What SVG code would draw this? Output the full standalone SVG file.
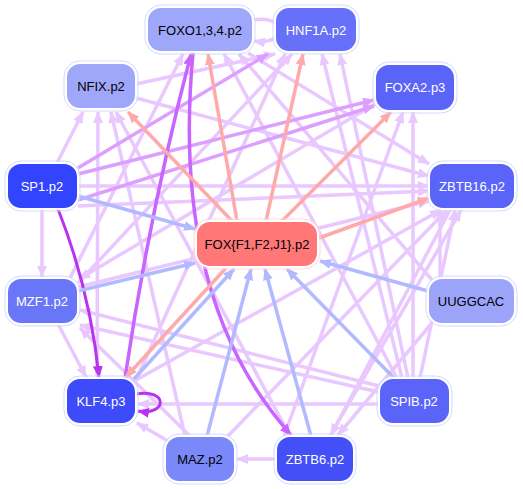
<svg xmlns="http://www.w3.org/2000/svg" width="523" height="489" viewBox="0 0 523 489">
<defs>
<style>
.e{fill:none;stroke-linecap:butt}
.l{stroke:#e9c8ff;stroke-width:3.5}
.m{stroke:#dc9fff;stroke-width:3.5}
.d{stroke:#c964ff;stroke-width:3.5}
.dd{stroke:#b833ee;stroke-width:3}
.r{stroke:#ffaaaa;stroke-width:3.5}
.b{stroke:#b2baff;stroke-width:3.5}
.nb{stroke:#ffffff;stroke-width:2}
.no{fill:none;stroke:#d4d8ff;stroke-width:1}
text{font-family:"Liberation Sans",Arial,sans-serif;font-size:13px;text-anchor:middle;dominant-baseline:central}
.w{fill:#ffffff}
.k{fill:#000000}
</style>
<marker id="al" markerUnits="userSpaceOnUse" markerWidth="12" markerHeight="10" refX="11" refY="5" orient="auto"><path d="M0,0 L12,5 L0,10 z" fill="#e9c8ff"/></marker>
<marker id="am" markerUnits="userSpaceOnUse" markerWidth="12" markerHeight="10" refX="11" refY="5" orient="auto"><path d="M0,0 L12,5 L0,10 z" fill="#dc9fff"/></marker>
<marker id="ad" markerUnits="userSpaceOnUse" markerWidth="12" markerHeight="10" refX="11" refY="5" orient="auto"><path d="M0,0 L12,5 L0,10 z" fill="#c964ff"/></marker>
<marker id="add" markerUnits="userSpaceOnUse" markerWidth="12" markerHeight="10" refX="11" refY="5" orient="auto"><path d="M0,0 L12,5 L0,10 z" fill="#b833ee"/></marker>
<marker id="ar" markerUnits="userSpaceOnUse" markerWidth="12" markerHeight="10" refX="11" refY="5" orient="auto"><path d="M0,0 L12,5 L0,10 z" fill="#ffaaaa"/></marker>
<marker id="ab" markerUnits="userSpaceOnUse" markerWidth="12" markerHeight="10" refX="11" refY="5" orient="auto"><path d="M0,0 L12,5 L0,10 z" fill="#b2baff"/></marker>
</defs>
<rect width="523" height="489" fill="#ffffff"/>
<g id="connectors">
<!-- light purple -->
<path class="e l" marker-end="url(#al)" d="M57,163 L83,112"/>
<path class="e l" marker-end="url(#al)" d="M42,209 L42,277"/>
<path class="e l" marker-end="url(#al)" d="M58,324 L86,377"/>
<path class="e l" marker-end="url(#al)" d="M97,378 L98,112"/>
<path class="e l" marker-end="url(#al)" d="M185,436 L111,112"/>
<path class="e l" marker-end="url(#al)" d="M290,436 L116,112"/>
<path class="e l" marker-end="url(#al)" d="M136,84 L275,54"/>
<path class="e l" marker-end="url(#al)" d="M136,98 L429,176"/>
<path class="e l" marker-end="url(#al)" d="M248,53 L429,164"/>
<path class="e l" marker-end="url(#al)" d="M397,378 L224,54"/>
<path class="e l" marker-end="url(#al)" d="M402,378 L322,54"/>
<path class="e l" marker-end="url(#al)" d="M408,378 L340,54"/>
<path class="e l" marker-end="url(#al)" d="M413,378 L413,112"/>
<path class="e l" marker-end="url(#al)" d="M420,378 L455,210"/>
<path class="e l" marker-end="url(#al)" d="M284,436 L403,112"/>
<path class="e l" marker-end="url(#al)" d="M228,436 L447,210"/>
<path class="e l" marker-end="url(#al)" d="M136,380 L441,210"/>
<path class="e l" marker-end="url(#al)" d="M136,380 L285,54"/>
<path class="e l" marker-end="url(#al)" d="M450,210 L331,435"/>
<path class="e l" marker-end="url(#al)" d="M432,323 L338,435"/>
<path class="e l" marker-end="url(#al)" d="M276,459 L237,459"/>
<path class="e l" marker-end="url(#al)" d="M168,441 L137,423"/>
<path class="e l" marker-end="url(#al)" d="M379,404 L138,404"/>
<path class="e l" marker-end="url(#al)" d="M379,386 L80,310"/>
<path class="e l" marker-end="url(#al)" d="M379,392 L80,325"/>
<path class="e l" marker-end="url(#al)" d="M190,436 L80,328"/>
<path class="e l" marker-end="url(#al)" d="M70,278 L183,54"/>
<path class="e l" marker-end="url(#al)" d="M78,283 L292,54"/>
<path class="e l" marker-end="url(#al)" d="M78,287 L429,201"/>
<path class="e l" marker-end="url(#al)" d="M78,186 L429,186"/>
<path class="e l" marker-end="url(#al)" d="M78,206 L429,191"/>
<path class="e l" marker-end="url(#al)" d="M432,280 L239,54"/>
<path class="e l" marker-end="url(#al)" d="M375,104 L79,279"/>
<path class="e l" marker-end="url(#al)" d="M330,436 L461,210"/>
<path class="e l" marker-end="url(#al)" d="M440,324 L440,210"/>
<path class="e l" marker-end="url(#al)" d="M253,20 C288,14 288,46 254,41"/>
<!-- medium purple -->
<path class="e m" marker-end="url(#am)" d="M78,168 L268,54"/>
<path class="e m" marker-end="url(#am)" d="M78,174 L374,100"/>
<path class="e m" marker-end="url(#am)" d="M78,200 L374,106"/>
<!-- dark purple -->
<path class="e d" marker-end="url(#ad)" d="M125,378 Q150,210 191,54"/>
<path class="e d" marker-end="url(#ad)" d="M193,53 Q170,300 291,435"/>
<path class="e dd" marker-end="url(#add)" d="M58,209 Q90,290 99,377"/>
<path class="e dd" marker-end="url(#add)" d="M136,394 C168,388 168,416 138,411"/>
<!-- red -->
<path class="e r" marker-end="url(#ar)" d="M237,221 L208,54"/>
<path class="e r" marker-end="url(#ar)" d="M266,221 L303,54"/>
<path class="e r" marker-end="url(#ar)" d="M232,221 L128,112"/>
<path class="e r" marker-end="url(#ar)" d="M282,221 L391,112"/>
<path class="e r" marker-end="url(#ar)" d="M319,238 L429,198"/>
<path class="e r" marker-end="url(#ar)" d="M226,268 L126,377"/>
<!-- blue -->
<path class="e b" marker-end="url(#ab)" d="M78,196 L195,229"/>
<path class="e b" marker-end="url(#ab)" d="M78,291 L195,263"/>
<path class="e b" marker-end="url(#ab)" d="M134,379 L234,269"/>
<path class="e b" marker-end="url(#ab)" d="M207,436 L251,269"/>
<path class="e b" marker-end="url(#ab)" d="M311,436 L265,269"/>
<path class="e b" marker-end="url(#ab)" d="M394,378 L287,269"/>
<path class="e b" marker-end="url(#ab)" d="M428,291 L320,261"/>
</g>
<g id="n-foxo">
<rect class="no" x="145" y="5" width="110" height="49" rx="16"/>
<rect class="nb" x="147" y="7" width="106" height="45" rx="14" fill="#9fa7fa"/>
<text class="k" x="200" y="30">FOXO1,3,4.p2</text>
</g>
<g id="n-hnf1a">
<rect class="no" x="273" y="5" width="86" height="49" rx="16"/>
<rect class="nb" x="275" y="7" width="82" height="45" rx="14" fill="#6670f8"/>
<text class="w" x="316" y="30">HNF1A.p2</text>
</g>
<g id="n-nfix">
<rect class="no" x="64" y="61" width="74" height="50" rx="16"/>
<rect class="nb" x="66" y="63" width="70" height="46" rx="14" fill="#9fa7fa"/>
<text class="k" x="101" y="86">NFIX.p2</text>
</g>
<g id="n-foxa2">
<rect class="no" x="373" y="62" width="84" height="51" rx="16"/>
<rect class="nb" x="375" y="64" width="80" height="47" rx="14" fill="#5a64f8"/>
<text class="w" x="415" y="87">FOXA2.p3</text>
</g>
<g id="n-sp1">
<rect class="no" x="5" y="161" width="75" height="50" rx="16"/>
<rect class="nb" x="7" y="163" width="71" height="46" rx="14" fill="#3344ff"/>
<text class="w" x="42" y="186">SP1.p2</text>
</g>
<g id="n-zbtb16">
<rect class="no" x="427" y="161" width="90" height="50" rx="16"/>
<rect class="nb" x="429" y="163" width="86" height="46" rx="14" fill="#5a64f8"/>
<text class="w" x="472" y="186">ZBTB16.p2</text>
</g>
<g id="n-fox">
<rect class="no" x="194" y="219" width="126" height="50" rx="16" style="stroke:#ffd8d8"/>
<rect class="nb" x="196" y="221" width="122" height="46" rx="14" fill="#ff7777"/>
<text class="k" x="257" y="244">FOX{F1,F2,J1}.p2</text>
</g>
<g id="n-mzf1">
<rect class="no" x="5" y="276" width="75" height="50" rx="16"/>
<rect class="nb" x="7" y="278" width="71" height="46" rx="14" fill="#6a76f8"/>
<text class="w" x="42" y="301">MZF1.p2</text>
</g>
<g id="n-uuggcac">
<rect class="no" x="426" y="276" width="91" height="50" rx="16"/>
<rect class="nb" x="428" y="278" width="87" height="46" rx="14" fill="#9ca4fa"/>
<text class="k" x="471" y="301">UUGGCAC</text>
</g>
<g id="n-klf4">
<rect class="no" x="64" y="376" width="74" height="50" rx="16"/>
<rect class="nb" x="66" y="378" width="70" height="46" rx="14" fill="#3d4bfa"/>
<text class="w" x="101" y="401">KLF4.p3</text>
</g>
<g id="n-spib">
<rect class="no" x="377" y="376" width="75" height="50" rx="16"/>
<rect class="nb" x="379" y="378" width="71" height="46" rx="14" fill="#5a64f8"/>
<text class="w" x="414" y="401">SPIB.p2</text>
</g>
<g id="n-maz">
<rect class="no" x="163" y="434" width="74" height="50" rx="16"/>
<rect class="nb" x="165" y="436" width="70" height="46" rx="14" fill="#7a88fa"/>
<text class="k" x="200" y="459">MAZ.p2</text>
</g>
<g id="n-zbtb6">
<rect class="no" x="274" y="434" width="82" height="50" rx="16"/>
<rect class="nb" x="276" y="436" width="78" height="46" rx="14" fill="#4350f8"/>
<text class="w" x="315" y="459">ZBTB6.p2</text>
</g>
</svg>
